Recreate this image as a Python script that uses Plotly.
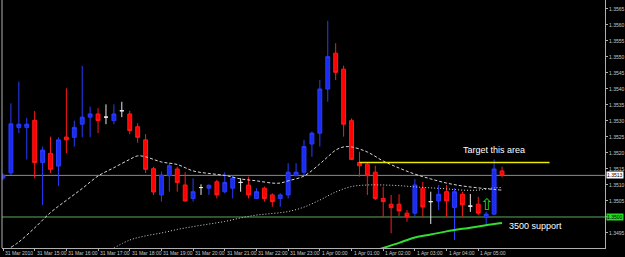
import plotly.graph_objects as go

# ---- candle data (15-minute bars) ----
idx = list(range(64))
open_ = [1.35122,1.35138,1.35280,1.35280,1.35302,1.35170,1.35199,1.35159,1.35250,1.35249,
         1.35290,1.35312,1.35322,1.35312,1.35301,1.35332,1.35322,1.35282,1.35241,1.35151,
         1.35069,1.35129,1.35150,1.35100,1.35058,1.35092,1.35090,1.35110,1.35079,1.35090,
         1.35108,1.35100,1.35058,1.35090,1.35069,1.35058,1.35069,1.35129,1.35140,1.35228,
         1.35262,1.35400,1.35512,1.35462,1.35301,1.35170,1.35165,1.35140,1.35058,1.35040,
         1.35040,1.35012,1.35012,1.35090,1.35048,1.35050,1.35079,1.35030,1.35071,1.35034,
         1.35040,1.34999,1.35009,1.35144]
high = [1.35136,1.35355,1.35423,1.35310,1.35331,1.35220,1.35251,1.35249,1.35402,1.35301,
        1.35472,1.35345,1.35340,1.35352,1.35352,1.35360,1.35332,1.35293,1.35259,1.35157,
        1.35142,1.35168,1.35157,1.35140,1.35121,1.35102,1.35102,1.35116,1.35140,1.35129,
        1.35121,1.35126,1.35090,1.35095,1.35074,1.35074,1.35168,1.35168,1.35241,1.35267,
        1.35428,1.35613,1.35543,1.35473,1.35308,1.35204,1.35168,1.35160,1.35095,1.35069,
        1.35071,1.35022,1.35119,1.35110,1.35079,1.35100,1.35100,1.35090,1.35079,1.35072,
        1.35063,1.35017,1.35180,1.35157]
low = [1.35115,1.35131,1.35262,1.35180,1.35121,1.35037,1.35138,1.35097,1.35199,1.35220,
       1.35249,1.35249,1.35262,1.35290,1.35290,1.35312,1.35259,1.35232,1.35137,1.35069,
       1.35048,1.35079,1.35079,1.35048,1.35048,1.35069,1.35069,1.35058,1.35074,1.35058,
       1.35079,1.35058,1.35058,1.35048,1.35032,1.35032,1.35058,1.35129,1.35131,1.35188,
       1.35220,1.35360,1.35428,1.35251,1.35178,1.35126,1.35069,1.35053,1.35001,1.34949,
       1.35003,1.34985,1.35001,1.35001,1.34978,1.35022,1.35001,1.34928,1.35001,1.35016,
       1.35006,1.34975,1.35006,1.35124]
close = [1.35130,1.35291,1.35290,1.35290,1.35170,1.35209,1.35149,1.35241,1.35241,1.35280,
         1.35312,1.35322,1.35301,1.35312,1.35322,1.35332,1.35270,1.35249,1.35149,1.35078,
         1.35131,1.35160,1.35108,1.35050,1.35079,1.35092,1.35099,1.35069,1.35108,1.35121,
         1.35108,1.35069,1.35079,1.35058,1.35048,1.35069,1.35140,1.35140,1.35220,1.35262,
         1.35400,1.35501,1.35452,1.35290,1.35180,1.35160,1.35129,1.35058,1.35048,1.35029,
         1.35019,1.35001,1.35100,1.35031,1.35048,1.35071,1.35050,1.35079,1.35038,1.35034,
         1.35012,1.35009,1.35150,1.35130]

# ---- moving averages ----
ma1_x = [1,2,4,6,8,10,12,14,16,17,18,20,22,24,26,28,30,32,34,35,36,38,40,41,42,43,44,46,48,50,52,54,56,58,60,62,63]
ma1_y = [1.34905,1.34922,1.34966,1.35014,1.35052,1.35089,1.35128,1.35154,1.35180,1.35191,1.35188,1.35172,
         1.35164,1.35144,1.35136,1.35130,1.35119,1.35113,1.35106,1.35106,1.35113,1.35128,1.35166,1.35188,
         1.35209,1.35219,1.35219,1.35203,1.35175,1.35153,1.35134,1.35119,1.35106,1.35097,1.35091,1.35086,1.35084]
ma2_x = [14,16,18,20,22,24,26,28,30,32,34,36,38,40,42,44,46,48,50,52,54,56,58,60,62,63]
ma2_y = [1.34903,1.34928,1.34941,1.34950,1.34961,1.34970,1.34978,1.34986,1.34997,1.35006,1.35011,1.35017,
         1.35031,1.35053,1.35078,1.35095,1.35100,1.35100,1.35098,1.35094,1.35091,1.35088,1.35084,1.35084,
         1.35091,1.35092]
ma3_x = [47,48,50,52,54,56,58,60,62,63]
ma3_y = [1.34895,1.34903,1.34919,1.34936,1.34945,1.34955,1.34963,1.34970,1.34978,1.34981]

# ---- levels / labels ----
current_price = 1.3513
support_price = 1.3500
target_price = 1.3517
target_x = [45, 69]
y_ticks = [1.3495,1.3500,1.3505,1.3510,1.3515,1.3520,1.3525,1.3530,1.3535,1.3540,1.3545,1.3550,1.3555,1.3560,1.3565]
x_tick_pos = [0,4,8,12,16,20,24,28,32,36,40,44,48,52,56,60]
x_tick_text = ["31 Mar 2010","31 Mar 15:00","31 Mar 16:00","31 Mar 17:00","31 Mar 18:00","31 Mar 19:00",
               "31 Mar 20:00","31 Mar 21:00","31 Mar 22:00","31 Mar 23:00","1 Apr 00:00","1 Apr 01:00",
               "1 Apr 02:00","1 Apr 03:00","1 Apr 04:00","1 Apr 05:00"]

FONT = "Liberation Sans, Arial, sans-serif"

def subset(cond):
    sel = [i for i in idx if cond(open_[i], close[i])]
    return (sel, [open_[i] for i in sel], [high[i] for i in sel],
            [low[i] for i in sel], [close[i] for i in sel])

fig = go.Figure()

for cond, col_line, col_fill in [
    (lambda o, c: c > o, "#2a3cff", "#1a2cf0"),
    (lambda o, c: c < o, "#ff1a1a", "#ff0000"),
    (lambda o, c: c == o, "#e8e8e8", "#e8e8e8"),
]:
    x, o, h, l, c = subset(cond)
    fig.add_trace(go.Candlestick(
        x=x, open=o, high=h, low=l, close=c,
        increasing=dict(line=dict(color=col_line, width=1), fillcolor=col_fill),
        decreasing=dict(line=dict(color=col_line, width=1), fillcolor=col_fill),
        whiskerwidth=0, hoverinfo="skip", showlegend=False))

fig.add_trace(go.Scatter(x=ma1_x, y=ma1_y, mode="lines", line=dict(color="#d8d8d8", width=1, dash="3px,2px", shape="spline"),
                         hoverinfo="skip", showlegend=False))
fig.add_trace(go.Scatter(x=ma2_x, y=ma2_y, mode="lines", line=dict(color="#d8d8d8", width=1, dash="1px,2px", shape="spline"),
                         hoverinfo="skip", showlegend=False))
fig.add_trace(go.Scatter(x=ma3_x, y=ma3_y, mode="lines", line=dict(color="#33dd33", width=2, shape="spline"),
                         hoverinfo="skip", showlegend=False))
fig.add_trace(go.Scatter(x=target_x, y=[target_price, target_price], mode="lines",
                         line=dict(color="#e8e800", width=1.5), hoverinfo="skip", showlegend=False))

shapes = [
    dict(type="line", xref="paper", yref="y", x0=0, x1=1, y0=current_price, y1=current_price,
         line=dict(color="#8a8a8a", width=1), layer="below"),
    dict(type="line", xref="paper", yref="y", x0=0, x1=1, y0=support_price, y1=support_price,
         line=dict(color="#5fa85f", width=1), layer="below"),
    dict(type="line", xref="paper", yref="paper", x0=0, x1=0, y0=0, y1=1,
         line=dict(color="#b0b0b0", width=1)),
]

annotations = []
for p, t in zip(x_tick_pos, x_tick_text):
    annotations.append(dict(x=p, y=0, xref="x", yref="paper", text=t, showarrow=False,
                            xanchor="left", yanchor="top", xshift=0, yshift=0,
                            font=dict(family=FONT, size=5, color="#c8c8c8")))
annotations.append(dict(x=1, y=current_price, xref="paper", yref="y", text="1.3513", showarrow=False,
                        xanchor="left", yanchor="middle", xshift=1, bgcolor="#ffffff", borderpad=0,
                        font=dict(family=FONT, size=5, color="#000000")))
annotations.append(dict(x=1, y=support_price, xref="paper", yref="y", text="1.3500", showarrow=False,
                        xanchor="left", yanchor="middle", xshift=1, bgcolor="#22dd22", borderpad=0,
                        font=dict(family=FONT, size=5, color="#000000")))
annotations.append(dict(x=62, y=1.35209, xref="x", yref="y", text="Target this area", showarrow=False,
                        xanchor="center", yanchor="middle",
                        font=dict(family=FONT, size=9, color="#ffffff")))
annotations.append(dict(x=63.6, y=1.34972, xref="x", yref="y", text="3500 support", showarrow=False,
                        xanchor="left", yanchor="middle",
                        font=dict(family=FONT, size=9, color="#ffffff")))
annotations.append(dict(x=61, y=1.35039, xref="x", yref="y", text="⇧", showarrow=False,
                        xanchor="center", yanchor="middle",
                        font=dict(family="DejaVu Sans", size=16, color="#22dd22")))

# the 1.3500 level carries its own highlighted label, so its plain tick label is left blank
y_tick_text = ["" if abs(v - support_price) < 1e-9 else f"{v:.4f}" for v in y_ticks]

fig.update_layout(
    width=625, height=257,
    margin=dict(l=2, r=20, t=0, b=9),
    paper_bgcolor="#000000", plot_bgcolor="#000000",
    showlegend=False, hovermode=False,
    shapes=shapes, annotations=annotations,
    xaxis=dict(range=[-0.126, 76.0], showgrid=False, zeroline=False, rangeslider=dict(visible=False),
               showline=True, linecolor="#b0b0b0", linewidth=1,
               tickmode="array", tickvals=x_tick_pos, ticktext=[""] * len(x_tick_pos),
               ticks="outside", ticklen=2, tickcolor="#b0b0b0", showticklabels=False),
    yaxis=dict(range=[1.349031, 1.356781], side="right", showgrid=False, zeroline=False,
               showline=True, linecolor="#b0b0b0", linewidth=1,
               tickmode="array", tickvals=y_ticks, ticktext=y_tick_text,
               ticks="outside", ticklen=2, tickcolor="#b0b0b0",
               tickfont=dict(family=FONT, size=5, color="#c8c8c8")),
)

fig.write_html("out.html")
